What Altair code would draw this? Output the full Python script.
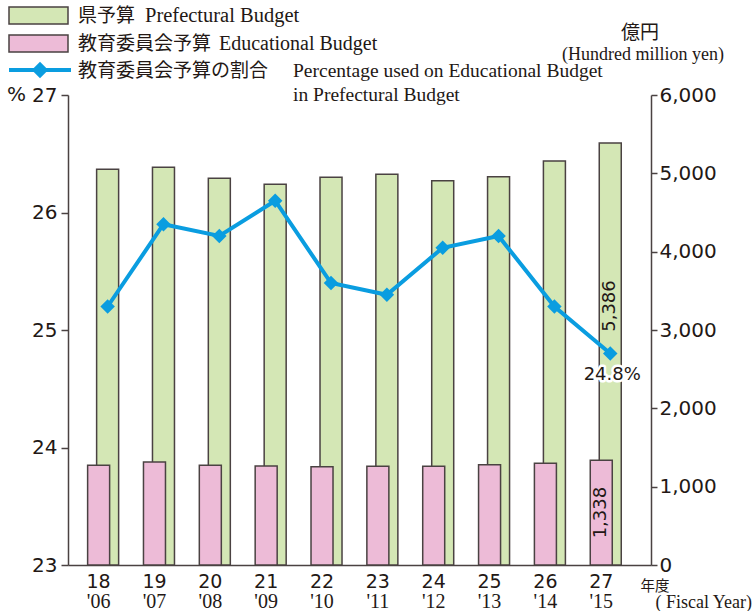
import altair as alt
import pandas as pd

# ---- data ----
fiscal_jp = ["18", "19", "20", "21", "22", "23", "24", "25", "26", "27"]
fiscal_en = ["'06", "'07", "'08", "'09", "'10", "'11", "'12", "'13", "'14", "'15"]
pref_budget = [5052, 5077, 4937, 4860, 4950, 4988, 4906, 4957, 5158, 5386]
edu_budget = [1273, 1315, 1273, 1264, 1255, 1260, 1260, 1280, 1298, 1338]
edu_share = [25.2, 25.9, 25.8, 26.1, 25.4, 25.3, 25.7, 25.8, 25.2, 24.8]
left_ticks = [23, 24, 25, 26, 27]
right_ticks = [0, 1000, 2000, 3000, 4000, 5000, 6000]

GREEN = "#d4e7b5"
PINK = "#edbbd7"
BLUE = "#0a9de0"
INK = "#231815"
AXIS = "#4a4242"
SANS = "DejaVu Sans"
SERIF = "Liberation Serif"
CJK = "Noto Sans CJK JP"

df = pd.DataFrame({
    "idx": list(range(len(fiscal_jp))),
    "jp": fiscal_jp,
    "en": fiscal_en,
    "pref": pref_budget,
    "edu": edu_budget,
    "pct": edu_share,
})
last = len(fiscal_jp) - 1

xscale = alt.Scale(domain=[-0.62, 9.64], nice=False, zero=False)
xaxis = alt.Axis(labels=False, ticks=False, grid=False, title=None,
                 domainColor=AXIS, domainWidth=1.5)
X = alt.X("idx:Q", scale=xscale, axis=xaxis)

yR_scale = alt.Scale(domain=[0, 6000], nice=False, zero=True)
yR_axis = alt.Axis(orient="right", values=right_ticks, labelExpr="format(datum.value, ',')",
                   title=None, grid=False,
                   tickSize=6, tickWidth=1.5, tickColor=AXIS, domainColor=AXIS, domainWidth=1.5,
                   labelFont=SANS, labelFontSize=20, labelColor=INK, labelPadding=2)
yL_scale = alt.Scale(domain=[23, 27], nice=False, zero=False)
yL_axis = alt.Axis(orient="left", values=left_ticks, labelExpr="format(datum.value, 'd')",
                   title=None, grid=False,
                   tickSize=7, tickWidth=1.5, tickColor=AXIS, domainColor=AXIS, domainWidth=1.5,
                   labelFont=SANS, labelFontSize=20, labelColor=INK, labelPadding=4)

base = alt.Chart(df)

green = base.mark_bar(width=22, fill=GREEN, stroke=AXIS, strokeWidth=1.5).encode(
    x=X, y=alt.Y("pref:Q", scale=yR_scale, axis=yR_axis))
pink = base.mark_bar(width=22, xOffset=-9, fill=PINK, stroke=AXIS, strokeWidth=1.5).encode(
    x=X, y=alt.Y("edu:Q", scale=yR_scale, axis=yR_axis))
t_pref = base.transform_filter(f"datum.idx == {last}").mark_text(
    angle=270, font=SANS, fontSize=18, color=INK, align="center", baseline="middle").encode(
    x=X, y=alt.value(211), text=alt.Text("pref:Q", format=","))
t_edu = base.transform_filter(f"datum.idx == {last}").transform_calculate(
    half="datum.edu / 2").mark_text(
    angle=270, xOffset=-9, font=SANS, fontSize=18, color=INK, align="center", baseline="middle").encode(
    x=X, y=alt.Y("half:Q", scale=yR_scale, axis=yR_axis), text=alt.Text("edu:Q", format=","))
bars = alt.layer(green, pink, t_pref, t_edu)

line = base.mark_line(color=BLUE, strokeWidth=4).encode(
    x=X, y=alt.Y("pct:Q", scale=yL_scale, axis=yL_axis))
pts = base.mark_point(shape="diamond", filled=True, size=210, color=BLUE, opacity=1).encode(
    x=X, y=alt.Y("pct:Q", scale=yL_scale, axis=yL_axis))
lab = base.transform_filter(f"datum.idx == {last}").transform_calculate(
    lbl="format(datum.pct, '.1f') + '%'")
halo = lab.mark_text(dy=21, dx=2, font=SANS, fontSize=18, fill="white", stroke="white",
                     strokeWidth=5, strokeJoin="round").encode(
    x=X, y=alt.Y("pct:Q", scale=yL_scale, axis=yL_axis), text="lbl:N")
pct_txt = lab.mark_text(dy=21, dx=2, font=SANS, fontSize=18, color=INK).encode(
    x=X, y=alt.Y("pct:Q", scale=yL_scale, axis=yL_axis), text="lbl:N")
lines = alt.layer(line, pts, halo, pct_txt)

# x tick labels (two lines)
xl1 = base.mark_text(xOffset=-9, font=SANS, fontSize=19, color=INK, baseline="middle").encode(
    x=X, y=alt.value(487), text="jp:N")
xl2 = base.mark_text(xOffset=-9, font=SERIF, fontSize=20, color=INK, baseline="middle").encode(
    x=X, y=alt.value(507), text="en:N")

one = alt.Chart(pd.DataFrame({"k": [0]}))


def rect(x1, x2, y1, y2, fill):
    return one.mark_rect(fill=fill, stroke=AXIS, strokeWidth=1.5).encode(
        x=alt.value(x1), x2=alt.value(x2), y=alt.value(y1), y2=alt.value(y2))


def txt(s, x, y, font, size, align="left"):
    return one.mark_text(text=s, font=font, fontSize=size, color=INK, align=align,
                         baseline="middle").encode(x=alt.value(x), y=alt.value(y))


leg_line = one.mark_rule(color=BLUE, strokeWidth=4).encode(
    x=alt.value(-59), x2=alt.value(3), y=alt.value(-25))
leg_pt = one.mark_point(shape="diamond", filled=True, size=270, color=BLUE, opacity=1).encode(
    x=alt.value(-28), y=alt.value(-25))

extras = alt.layer(
    xl1, xl2,
    rect(-59, 0, -88, -71, GREEN),
    rect(-59, 0, -60, -43, PINK),
    leg_line, leg_pt,
    txt("県予算", 10, -79, CJK, 19),
    txt("Prefectural Budget", 77, -79, SERIF, 20.5),
    txt("教育委員会予算", 10, -51, CJK, 19),
    txt("Educational Budget", 151, -51, SERIF, 20),
    txt("教育委員会予算の割合", 10, -24, CJK, 19),
    txt("Percentage used on Educational Budget", 225, -24, SERIF, 19.5),
    txt("in Prefectural Budget", 225, 0, SERIF, 19.5),
    txt("億円", 572, -62, CJK, 19, "center"),
    txt("(Hundred million yen)", 575, -40, SERIF, 18, "center"),
    txt("%", -51.5, 0, SANS, 20, "center"),
    txt("年度", 587, 492, CJK, 14.5, "center"),
    txt("( Fiscal Year)", 684, 508, SERIF, 18, "right"),
)

chart = alt.layer(bars, lines, extras).resolve_scale(y="independent").properties(
    width=583, height=470,
    autosize=alt.AutoSizeParams(type="none"),
    padding={"left": 68, "top": 95, "right": 103, "bottom": 46},
    background="white",
).configure_view(stroke=None)

chart.save("out.html", embed_options={"renderer": "svg", "actions": False})
